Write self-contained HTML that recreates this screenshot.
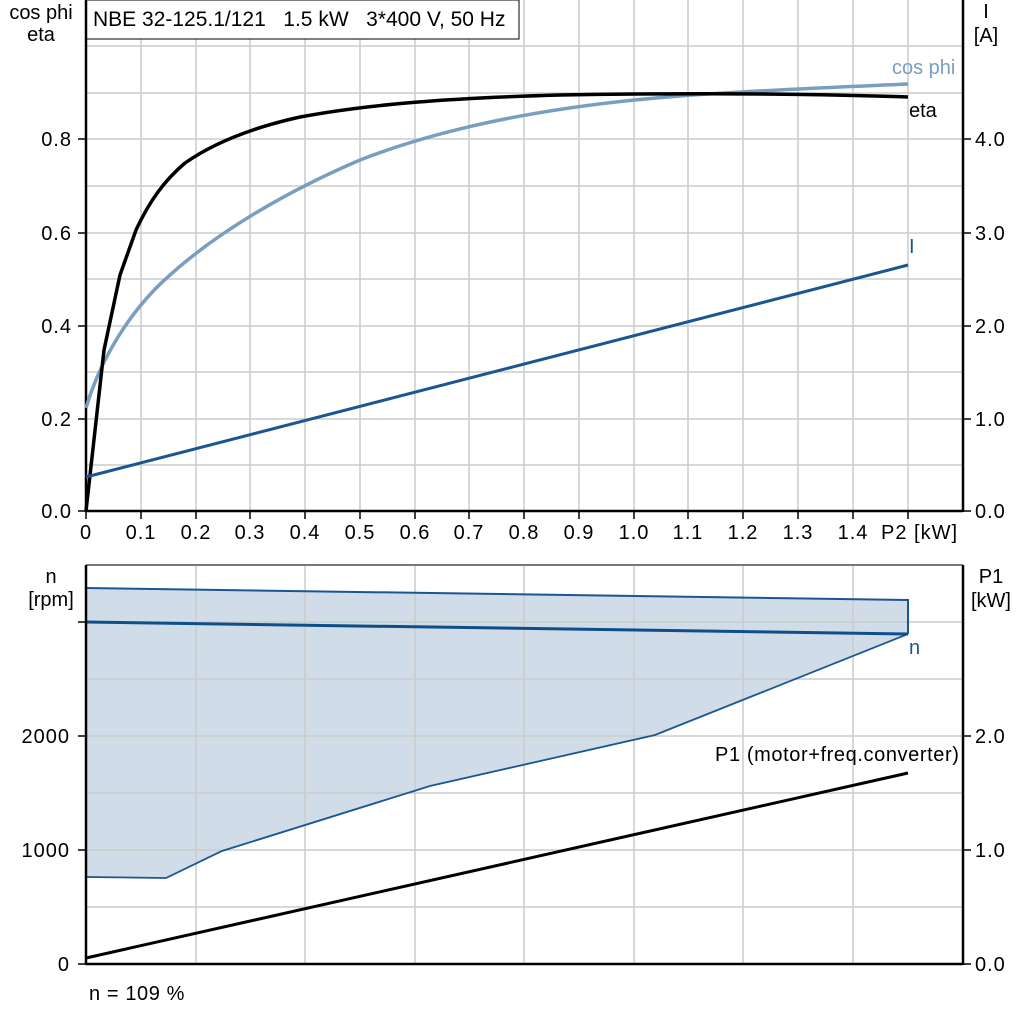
<!DOCTYPE html>
<html><head><meta charset="utf-8"><style>
html,body{margin:0;padding:0;background:#fff;}
svg{display:block;font-family:"Liberation Sans",Arial,sans-serif;}
.t{letter-spacing:1px}
</style></head><body>
<svg width="1024" height="1024" viewBox="0 0 1024 1024" xmlns="http://www.w3.org/2000/svg">
<g stroke="#cccccc" stroke-width="1.5">
<line x1="141" y1="0" x2="141" y2="511"/><line x1="196" y1="0" x2="196" y2="511"/><line x1="250" y1="0" x2="250" y2="511"/><line x1="305" y1="0" x2="305" y2="511"/><line x1="360" y1="0" x2="360" y2="511"/><line x1="415" y1="0" x2="415" y2="511"/><line x1="469" y1="0" x2="469" y2="511"/><line x1="524" y1="0" x2="524" y2="511"/><line x1="579" y1="0" x2="579" y2="511"/><line x1="634" y1="0" x2="634" y2="511"/><line x1="688" y1="0" x2="688" y2="511"/><line x1="743" y1="0" x2="743" y2="511"/><line x1="798" y1="0" x2="798" y2="511"/><line x1="853" y1="0" x2="853" y2="511"/><line x1="908" y1="0" x2="908" y2="511"/>
<line x1="86" y1="46" x2="963" y2="46"/><line x1="86" y1="93" x2="963" y2="93"/><line x1="86" y1="139" x2="963" y2="139"/><line x1="86" y1="186" x2="963" y2="186"/><line x1="86" y1="233" x2="963" y2="233"/><line x1="86" y1="279" x2="963" y2="279"/><line x1="86" y1="326" x2="963" y2="326"/><line x1="86" y1="372" x2="963" y2="372"/><line x1="86" y1="419" x2="963" y2="419"/><line x1="86" y1="465" x2="963" y2="465"/>
</g>
<rect x="86" y="0" width="433" height="39" fill="#fff" stroke="#000" stroke-width="1"/>
<text x="93" y="26" font-size="21">NBE 32-125.1/121 &#160; 1.5 kW &#160; 3*400 V, 50 Hz</text>
<g stroke="#000" stroke-width="2.5" fill="none">
<line x1="86" y1="0" x2="86" y2="512"/><line x1="963" y1="0" x2="963" y2="512"/><line x1="86" y1="511" x2="963" y2="511"/>
</g>
<g stroke="#000" stroke-width="1.5">
<line x1="78" y1="511" x2="86" y2="511"/><line x1="78" y1="419" x2="86" y2="419"/><line x1="78" y1="326" x2="86" y2="326"/><line x1="78" y1="233" x2="86" y2="233"/><line x1="78" y1="139" x2="86" y2="139"/>
<line x1="963" y1="511" x2="971" y2="511"/><line x1="963" y1="419" x2="971" y2="419"/><line x1="963" y1="326" x2="971" y2="326"/><line x1="963" y1="233" x2="971" y2="233"/><line x1="963" y1="139" x2="971" y2="139"/>
<line x1="86" y1="511" x2="86" y2="519"/><line x1="141" y1="511" x2="141" y2="519"/><line x1="196" y1="511" x2="196" y2="519"/><line x1="250" y1="511" x2="250" y2="519"/><line x1="305" y1="511" x2="305" y2="519"/><line x1="360" y1="511" x2="360" y2="519"/><line x1="415" y1="511" x2="415" y2="519"/><line x1="469" y1="511" x2="469" y2="519"/><line x1="524" y1="511" x2="524" y2="519"/><line x1="579" y1="511" x2="579" y2="519"/><line x1="634" y1="511" x2="634" y2="519"/><line x1="688" y1="511" x2="688" y2="519"/><line x1="743" y1="511" x2="743" y2="519"/><line x1="798" y1="511" x2="798" y2="519"/><line x1="853" y1="511" x2="853" y2="519"/><line x1="908" y1="511" x2="908" y2="519"/>
</g>
<g font-size="20" text-anchor="end" class="t">
<text x="72" y="518">0.0</text><text x="72" y="426">0.2</text><text x="72" y="333">0.4</text><text x="72" y="240">0.6</text><text x="72" y="146">0.8</text>
</g>
<g font-size="20" text-anchor="start" class="t">
<text x="975" y="518">0.0</text><text x="975" y="426">1.0</text><text x="975" y="333">2.0</text><text x="975" y="240">3.0</text><text x="975" y="146">4.0</text>
</g>
<g font-size="20" text-anchor="middle" class="t">
<text x="86" y="539">0</text><text x="141" y="539">0.1</text><text x="196" y="539">0.2</text><text x="250" y="539">0.3</text><text x="305" y="539">0.4</text><text x="360" y="539">0.5</text><text x="415" y="539">0.6</text><text x="469" y="539">0.7</text><text x="524" y="539">0.8</text><text x="579" y="539">0.9</text><text x="634" y="539">1.0</text><text x="688" y="539">1.1</text><text x="743" y="539">1.2</text><text x="798" y="539">1.3</text><text x="853" y="539">1.4</text>
</g>
<text x="881" y="539" font-size="20" class="t">P2 [kW]</text>
<text x="41" y="19" font-size="20" text-anchor="middle">cos phi</text>
<text x="41" y="41" font-size="20" text-anchor="middle">eta</text>
<text x="986" y="18" font-size="20" text-anchor="middle">I</text>
<text x="986" y="42" font-size="20" text-anchor="middle">[A]</text>
<path d="M86,408 C100,360 130,310 170,275 C220,230 290,190 360,160 C450,125 560,105 680,96 C760,90 840,87 908,84" fill="none" stroke="#7a9ebf" stroke-width="3.5"/>
<path d="M86,511 L104,350 L120,275 L136,230 C150,200 165,180 185,163 C215,142 255,127 300,117 C370,104 450,98 560,95 C680,93 790,93 908,97" fill="none" stroke="#000" stroke-width="3.5"/>
<line x1="86" y1="477" x2="908" y2="265" stroke="#1a5691" stroke-width="3"/>
<text x="892" y="74" font-size="20" fill="#7a9ebf">cos phi</text>
<text x="909" y="117" font-size="20">eta</text>
<text x="909" y="253" font-size="20" fill="#1a5691">I</text>

<polygon points="86,588 908,600 908,634 655,735 430,786 222,851 166,878 86,877" fill="#d0dce8"/>
<g stroke="#cccccc" stroke-width="1.5">
<line x1="196" y1="565" x2="196" y2="964"/><line x1="305" y1="565" x2="305" y2="964"/><line x1="415" y1="565" x2="415" y2="964"/><line x1="524" y1="565" x2="524" y2="964"/><line x1="634" y1="565" x2="634" y2="964"/><line x1="743" y1="565" x2="743" y2="964"/><line x1="853" y1="565" x2="853" y2="964"/>
<line x1="86" y1="622" x2="963" y2="622"/><line x1="86" y1="679" x2="963" y2="679"/><line x1="86" y1="736" x2="963" y2="736"/><line x1="86" y1="793" x2="963" y2="793"/><line x1="86" y1="850" x2="963" y2="850"/><line x1="86" y1="907" x2="963" y2="907"/>
</g>
<line x1="86" y1="565" x2="963" y2="565" stroke="#777" stroke-width="2"/>
<polyline points="86,588 908,600 908,634" fill="none" stroke="#1a5691" stroke-width="2"/>
<polyline points="908,634 655,735 430,786 222,851 166,878 86,877" fill="none" stroke="#1a5691" stroke-width="1.8"/>
<line x1="86" y1="622" x2="908" y2="634" stroke="#0e4f8a" stroke-width="3"/>
<line x1="86" y1="958" x2="908" y2="773" stroke="#000" stroke-width="3"/>
<g stroke="#000" stroke-width="2.5">
<line x1="86" y1="565" x2="86" y2="965"/><line x1="963" y1="565" x2="963" y2="965"/><line x1="86" y1="964" x2="963" y2="964"/>
</g>
<g stroke="#000" stroke-width="1.5">
<line x1="78" y1="964" x2="86" y2="964"/><line x1="78" y1="850" x2="86" y2="850"/><line x1="78" y1="736" x2="86" y2="736"/><line x1="78" y1="622" x2="86" y2="622"/>
<line x1="963" y1="964" x2="971" y2="964"/><line x1="963" y1="850" x2="971" y2="850"/><line x1="963" y1="736" x2="971" y2="736"/>
</g>
<g font-size="20" text-anchor="end" class="t">
<text x="70" y="971">0</text><text x="70" y="857">1000</text><text x="70" y="743">2000</text>
</g>
<g font-size="20" class="t">
<text x="975" y="971">0.0</text><text x="975" y="857">1.0</text><text x="975" y="743">2.0</text>
</g>
<text x="51" y="583" font-size="20" text-anchor="middle">n</text>
<text x="51" y="606" font-size="20" text-anchor="middle">[rpm]</text>
<text x="991" y="583" font-size="20" text-anchor="middle">P1</text>
<text x="991" y="607" font-size="20" text-anchor="middle">[kW]</text>
<text x="909" y="654" font-size="20" fill="#1a5691">n</text>
<text x="715" y="761" font-size="20" letter-spacing="0.6">P1 (motor+freq.converter)</text>
<text x="89" y="1000" font-size="20" letter-spacing="0.6">n = 109 %</text>
</svg>
</body></html>
